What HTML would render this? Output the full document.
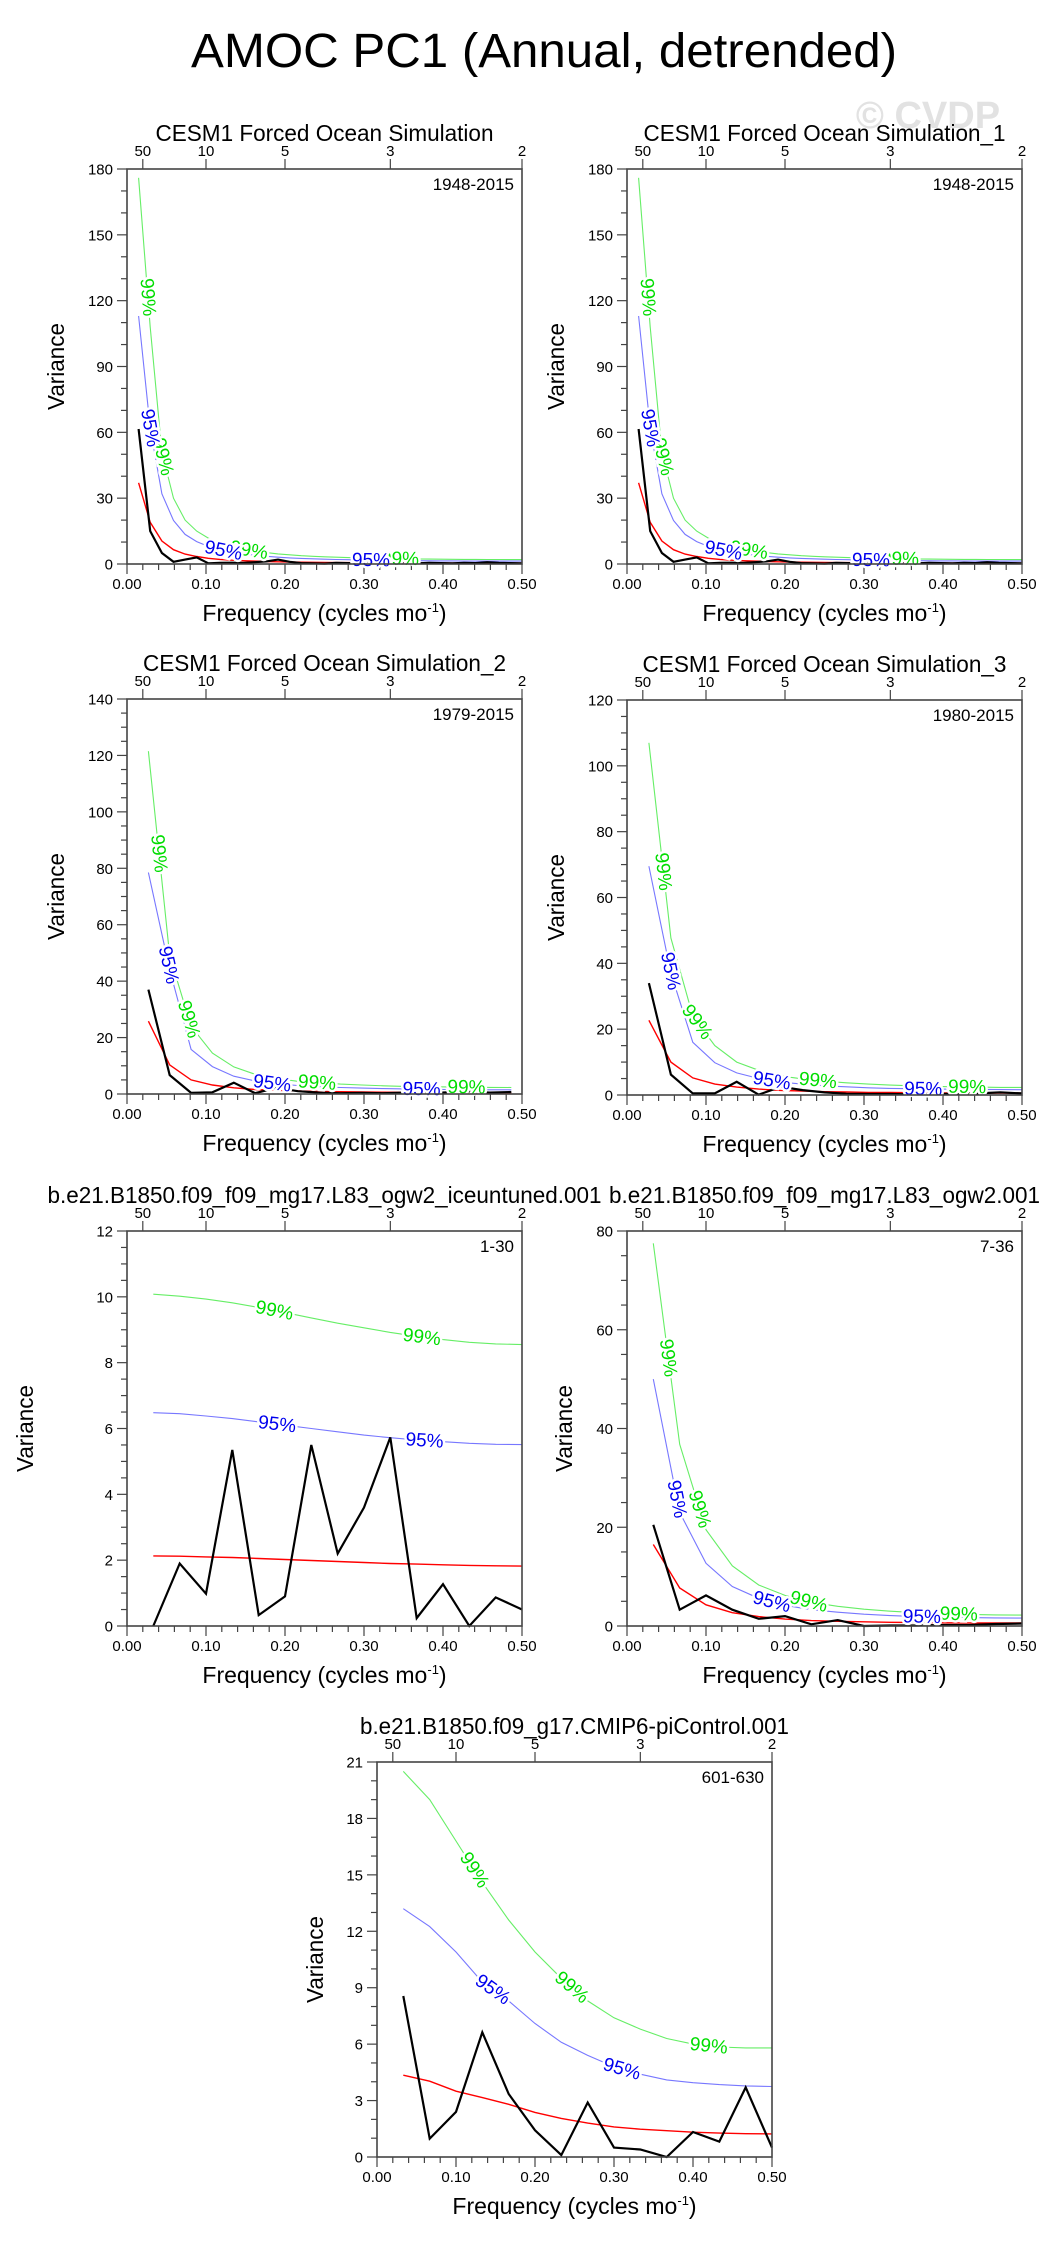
<!DOCTYPE html>
<html><head><meta charset="utf-8">
<style>
html,body{margin:0;padding:0;background:#fff;}
svg{display:block;font-family:"Liberation Sans",sans-serif;}
</style></head>
<body>
<svg id="fig" width="1054" height="2249" viewBox="0 0 1054 2249" xmlns="http://www.w3.org/2000/svg">
<text x="544" y="67" font-size="48" text-anchor="middle" textLength="706" lengthAdjust="spacingAndGlyphs">AMOC PC1 (Annual, detrended)</text>
<text x="928" y="128" font-size="38" font-weight="bold" fill="#e2e2e2" text-anchor="middle">© CVDP</text>
</svg>
<script>
// ---- Panel 1 data (1948-2015, 68 yrs) ----
const p1Years = 68;
const p1Black = [61.5,15,5,1,2,3,0.3,0.5,0.6,0.5,0.8,1.2,2,1,0.4,0.3,0.2,0.5,0.4,0.3,0.5,0.3,0.4,0.2,0.3,0.5,0.4,0.3,0.5,0.4,0.8,0.5,0.4,0.3];
const p1Red = [37,19,10.5,6.5,4.5,3.4,2.6,2.1,1.75,1.5,1.3,1.15,1.02,0.92,0.84,0.77,0.71,0.66,0.62,0.58,0.55,0.52,0.5,0.48,0.46,0.45,0.44,0.43,0.42,0.41,0.41,0.4,0.4,0.4];
const p1Blue = [113,62,32,19.8,13.5,10.2,8,6.5,5.4,4.6,4,3.5,3.1,2.8,2.55,2.35,2.2,2.05,1.95,1.85,1.75,1.68,1.62,1.56,1.5,1.46,1.42,1.39,1.36,1.34,1.32,1.31,1.3,1.3];
const p1Green = [176,108,51,30,20,15,11.8,9.6,8,6.8,5.9,5.2,4.6,4.2,3.8,3.5,3.3,3.1,2.9,2.75,2.62,2.52,2.44,2.36,2.3,2.24,2.19,2.15,2.11,2.08,2.05,2.03,2.02,2.0];
// ---- Panel 2 data (1948-2015) ----
const p2Years = 68;
const p2Black = [61.5,15,5,1,2,3,0.3,0.5,0.6,0.5,0.8,1.2,2,1,0.4,0.3,0.2,0.5,0.4,0.3,0.5,0.3,0.4,0.2,0.3,0.5,0.4,0.3,0.5,0.4,0.8,0.5,0.4,0.3];
const p2Red = [37,19,10.5,6.5,4.5,3.4,2.6,2.1,1.75,1.5,1.3,1.15,1.02,0.92,0.84,0.77,0.71,0.66,0.62,0.58,0.55,0.52,0.5,0.48,0.46,0.45,0.44,0.43,0.42,0.41,0.41,0.4,0.4,0.4];
const p2Blue = [113,62,32,19.8,13.5,10.2,8,6.5,5.4,4.6,4,3.5,3.1,2.8,2.55,2.35,2.2,2.05,1.95,1.85,1.75,1.68,1.62,1.56,1.5,1.46,1.42,1.39,1.36,1.34,1.32,1.31,1.3,1.3];
const p2Green = [176,108,51,30,20,15,11.8,9.6,8,6.8,5.9,5.2,4.6,4.2,3.8,3.5,3.3,3.1,2.9,2.75,2.62,2.52,2.44,2.36,2.3,2.24,2.19,2.15,2.11,2.08,2.05,2.03,2.02,2.0];
// ---- Panel 3 (1979-2015) ----
const p3Years = 37;
const p3Black = [37,6.7,0.4,0.6,4,0.3,2.2,1,0.5,0.3,0.4,0.3,0.5,0.3,0.6,0.8,0.5,0.7];
const p3Red = [25.8,10.3,5,3.2,2.2,1.6,1.3,1.1,0.9,0.8,0.7,0.65,0.6,0.55,0.5,0.5,0.48,0.47];
const p3Blue = [78.5,44,15.8,9.7,6.3,4.6,3.6,3,2.6,2.3,2.1,1.9,1.8,1.7,1.6,1.55,1.5,1.5];
const p3Green = [121.5,49,24,14.5,9.6,7,5.5,4.5,4,3.5,3.2,2.9,2.7,2.6,2.5,2.4,2.35,2.3];
// ---- Panel 4 (1980-2015) ----
const p4Years = 36;
const p4Black = [34,6.2,0.5,0.5,4,0.1,2.5,1.5,0.8,0.4,0.3,0.3,0.2,0.3,0.4,0.5,0.8,0.5];
const p4Red = [22.7,10,5.2,3.3,2.4,1.8,1.4,1.2,1.0,0.9,0.8,0.75,0.7,0.65,0.62,0.6,0.58,0.57];
const p4Blue = [69.5,37,16,9.8,6.7,5,3.9,3.3,2.8,2.5,2.2,2.0,1.9,1.8,1.75,1.7,1.65,1.6];
const p4Green = [107,47.7,24,15,10,7.5,5.8,4.9,4.2,3.7,3.3,3.0,2.8,2.6,2.5,2.4,2.3,2.3];
// ---- Panel 5 (1-30) ----
const p5Years = 30;
const p5Black = [0,1.9,0.98,5.35,0.33,0.9,5.5,2.2,3.6,5.73,0.24,1.27,0,0.87,0.5];
const p5Red = [2.13,2.12,2.1,2.08,2.05,2.02,1.99,1.96,1.93,1.9,1.88,1.86,1.84,1.83,1.82];
const p5Blue = [6.48,6.45,6.38,6.3,6.2,6.1,6.0,5.9,5.8,5.72,5.65,5.6,5.55,5.52,5.51];
const p5Green = [10.08,10.02,9.93,9.82,9.68,9.52,9.36,9.2,9.06,8.92,8.8,8.7,8.62,8.57,8.55];
// ---- Panel 6 (7-36) ----
const p6Years = 30;
const p6Black = [20.5,3.3,6.2,3.3,1.45,2,0.35,1.2,0,0.1,0.1,0.2,0.2,0.4,0.5];
const p6Red = [16.5,7.7,4.3,2.7,1.9,1.4,1.1,0.95,0.85,0.75,0.7,0.65,0.62,0.6,0.6];
const p6Blue = [50,23,12.7,8,5.6,4.2,3.3,2.8,2.4,2.1,1.9,1.8,1.7,1.65,1.6];
const p6Green = [77.5,36.8,19.5,12.2,8.3,6.2,4.8,4,3.4,3.0,2.7,2.5,2.35,2.25,2.2];
// ---- Panel 7 (601-630) ----
const p7Years = 30;
const p7Black = [8.56,0.98,2.4,6.63,3.35,1.42,0.1,2.9,0.5,0.4,0,1.33,0.82,3.7,0.5];
const p7Red = [4.35,4.03,3.5,3.16,2.8,2.37,2.05,1.8,1.6,1.48,1.4,1.32,1.27,1.24,1.23];
const p7Blue = [13.2,12.25,10.9,9.3,8.3,7.1,6.1,5.4,4.8,4.4,4.1,3.95,3.85,3.78,3.75];
const p7Green = [20.5,19.0,16.8,14.6,12.6,10.9,9.5,8.3,7.4,6.8,6.3,6.0,5.85,5.8,5.8];
// axis tick labels
const xTickLabels = ["0.00","0.10","0.20","0.30","0.40","0.50"];
const periodLabels = [50,10,5,3,2];

const NS = "http://www.w3.org/2000/svg";
const svg = document.getElementById('fig');
function mk(tag, attrs, parent, text){
  const e = document.createElementNS(NS, tag);
  for (const k in attrs) e.setAttribute(k, attrs[k]);
  if (text !== undefined) e.textContent = text;
  (parent||svg).appendChild(e);
  return e;
}

const panels = [
 {id:'p1',x0:127,y0:169,title:'CESM1 Forced Ocean Simulation',tl:338,yrs:'1948-2015',ymax:180,maj:30,min:10,ylo:71,N:p1Years,black:p1Black,red:p1Red,blue:p1Blue,green:p1Green,
  bl:[1.0,7.3,20],gl:[0.8,2.1,9.5,22.5]},
 {id:'p2',x0:627,y0:169,title:'CESM1 Forced Ocean Simulation_1',tl:362,yrs:'1948-2015',ymax:180,maj:30,min:10,ylo:71,N:p2Years,black:p2Black,red:p2Red,blue:p2Blue,green:p2Green,
  bl:[1.0,7.3,20],gl:[0.8,2.1,9.5,22.5]},
 {id:'p3',x0:127,y0:699,title:'CESM1 Forced Ocean Simulation_2',tl:363,yrs:'1979-2015',ymax:140,maj:20,min:5,ylo:71,N:p3Years,black:p3Black,red:p3Red,blue:p3Blue,green:p3Green,
  bl:[0.95,5.8,12.8],gl:[0.5,1.9,7.9,14.9]},
 {id:'p4',x0:627,y0:700,title:'CESM1 Forced Ocean Simulation_3',tl:364,yrs:'1980-2015',ymax:120,maj:20,min:5,ylo:71,N:p4Years,black:p4Black,red:p4Red,blue:p4Blue,green:p4Green,
  bl:[0.98,5.6,12.5],gl:[0.66,2.2,7.7,14.5]},
 {id:'p5',x0:127,y0:1231,title:'b.e21.B1850.f09_f09_mg17.L83_ogw2_iceuntuned.001',tl:554,yrs:'1-30',ymax:12,maj:2,min:0.5,ylo:102,N:p5Years,black:p5Black,red:p5Red,blue:p5Blue,green:p5Green,
  bl:[4.7,10.3],gl:[4.6,10.2]},
 {id:'p6',x0:627,y0:1231,title:'b.e21.B1850.f09_f09_mg17.L83_ogw2.001',tl:431,yrs:'7-36',ymax:80,maj:20,min:5,ylo:63,N:p6Years,black:p6Black,red:p6Red,blue:p6Blue,green:p6Green,
  bl:[0.9,4.5,10.2],gl:[0.57,1.76,5.9,11.6]},
 {id:'p7',x0:377,y0:1762,title:'b.e21.B1850.f09_g17.CMIP6-piControl.001',tl:429,yrs:'601-630',ymax:21,maj:3,min:1,ylo:62,N:p7Years,black:p7Black,red:p7Red,blue:p7Blue,green:p7Green,
  bl:[3.4,8.3],gl:[2.7,6.4,11.6]}
];

const W = 395, H = 395;

panels.forEach(function(p){
  const g = mk('g', {});
  
  
  const xS = f => p.x0 + f/0.5*W;
  const yS = v => p.y0 + H - v/p.ymax*H;
  const fr = i => (i+1)/p.N;

  // title
  const t = mk('text',{x:p.x0+W/2,y:p.y0-28,'font-size':23,'text-anchor':'middle',textLength:p.tl,lengthAdjust:'spacingAndGlyphs'},g,p.title);
  
  

  // y ticks
  const eps = 1e-6;
  for (let v=0; v<=p.ymax+eps; v+=p.min){
    const isMaj = Math.abs(v/p.maj - Math.round(v/p.maj)) < 1e-6;
    mk('line',{x1:p.x0-(isMaj?10:6),x2:p.x0,y1:yS(v),y2:yS(v),stroke:'#444','stroke-width':1.2},g);
    if (isMaj){
      const lb = mk('text',{x:p.x0-14,y:yS(v)+5.5,'font-size':15,'text-anchor':'end'},g,String(Math.round(v)));
      
      
    }
  }
  // x ticks
  for (let i=0;i<=25;i++){
    const f = i*0.02, isMaj = i%5===0;
    mk('line',{x1:xS(f),x2:xS(f),y1:p.y0+H,y2:p.y0+H+(isMaj?10:6),stroke:'#444','stroke-width':1.2},g);
  }
  xTickLabels.forEach(function(s,i){
    const lb = mk('text',{x:xS(i*0.1),y:p.y0+H+25,'font-size':15,'text-anchor':'middle'},g,s);
    
    
  });
  // top period ticks
  periodLabels.forEach(function(per){
    const x = xS(1/per);
    mk('line',{x1:x,x2:x,y1:p.y0-10,y2:p.y0,stroke:'#444','stroke-width':1.2},g);
    const lb = mk('text',{x:x,y:p.y0-13,'font-size':15,'text-anchor':'middle'},g,String(per));
    
    
  });
  // axis titles
  const xt = mk('text',{x:p.x0+W/2,y:p.y0+H+57,'font-size':23,'text-anchor':'middle'},g);
  
  
  mk('tspan',{},xt,'Frequency (cycles mo');
  mk('tspan',{dy:-9,'font-size':13},xt,'-1');
  mk('tspan',{dy:9},xt,')');
  const yx = p.x0 - p.ylo + 8, yy = p.y0 + H/2;
  const yt = mk('text',{x:yx,y:yy,'font-size':23,'text-anchor':'middle',transform:'rotate(-90 '+yx+' '+yy+')',textLength:87,lengthAdjust:'spacingAndGlyphs'},g,'Variance');
  
  

  // series
  function pts(arr){ return arr.map((v,i)=>xS(fr(i)).toFixed(1)+','+yS(v).toFixed(1)).join(' '); }
  const gl = mk('polyline',{points:pts(p.green),fill:'none',stroke:'#66ee66','stroke-width':1.1},g);
  
  
  const bl = mk('polyline',{points:pts(p.blue),fill:'none',stroke:'#7777ff','stroke-width':1.1},g);
  
  
  const rl = mk('polyline',{points:pts(p.red),fill:'none',stroke:'#ff0000','stroke-width':1.4},g);
  
  
  const kl = mk('polyline',{points:pts(p.black),fill:'none',stroke:'#000','stroke-width':2.2,'stroke-linejoin':'miter'},g);
  
  

  // curve labels
  function label(arr, idx, txt, col){
    const i0 = Math.min(Math.floor(idx), arr.length-2), fr0 = idx - i0;
    const xa = xS(fr(i0)), ya = yS(arr[i0]), xb = xS(fr(i0+1)), yb = yS(arr[i0+1]);
    const x = xa + (xb-xa)*fr0, y = ya + (yb-ya)*fr0;
    const ang = Math.atan2(yb-ya, xb-xa)*180/Math.PI;
    const tx = mk('text',{x:x,y:y+6,'font-size':19,'text-anchor':'middle',fill:col,stroke:'#fff','stroke-width':5,'paint-order':'stroke',transform:'rotate('+ang.toFixed(1)+' '+x.toFixed(1)+' '+y.toFixed(1)+')'},g,txt);
    
    
  }
  p.gl.forEach(k=>label(p.green,k,'99%','#00dd00'));
  p.bl.forEach(k=>label(p.blue,k,'95%','#0000ee'));

  // frame
  const fr2 = mk('rect',{x:p.x0,y:p.y0,width:W,height:H,fill:'none',stroke:'#444','stroke-width':1.6},g);
  
  
  // year range
  const yl = mk('text',{x:p.x0+W-8,y:p.y0+21,'font-size':17,'text-anchor':'end'},g,p.yrs);
  
  
});
</script>
</body></html>
